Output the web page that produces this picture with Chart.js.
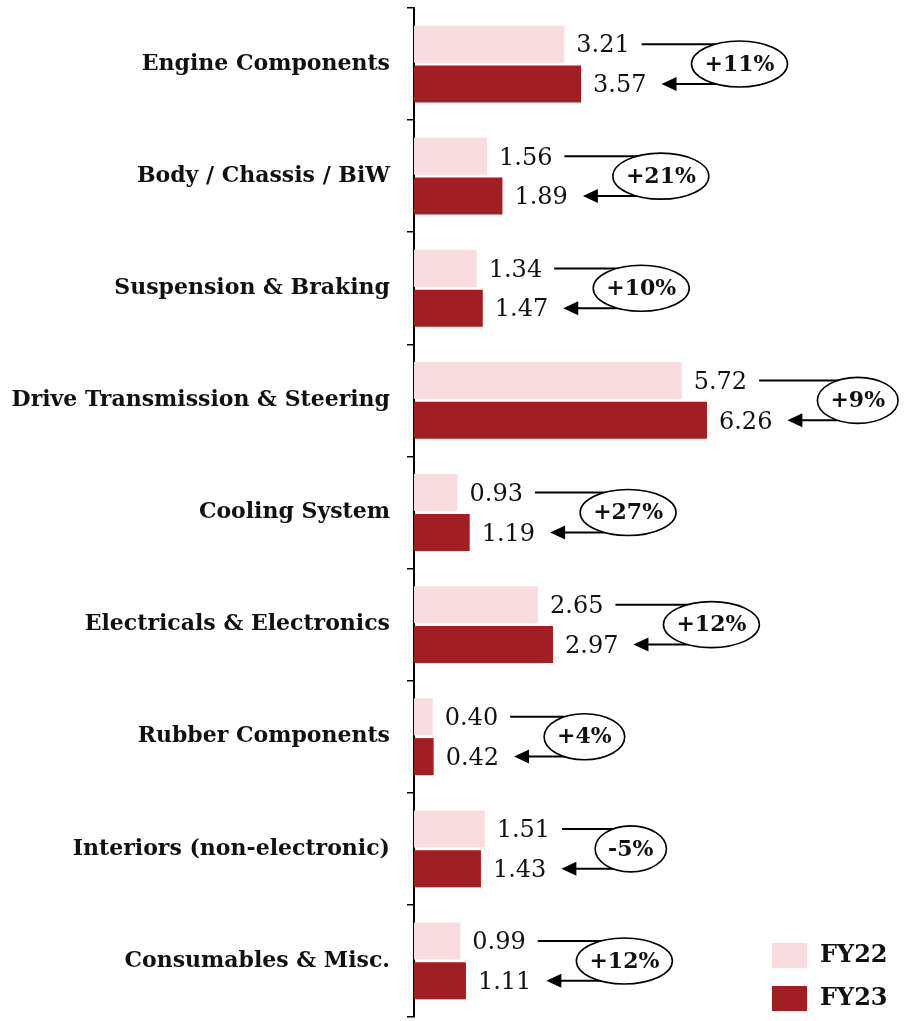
<!DOCTYPE html>
<html>
<head>
<meta charset="utf-8">
<script src="https://cdn.jsdelivr.net/npm/chart.js@4.4.0/dist/chart.umd.min.js"></script>
<style>
  html, body { margin: 0; padding: 0; background: #ffffff; }
  #wrap { width: 907px; height: 1021px; }
</style>
</head>
<body>
<div id="wrap"><canvas id="c" width="907" height="1021"></canvas></div>
<script>
const categories = [
  "Engine Components",
  "Body / Chassis / BiW",
  "Suspension & Braking",
  "Drive Transmission & Steering",
  "Cooling System",
  "Electricals & Electronics",
  "Rubber Components",
  "Interiors (non-electronic)",
  "Consumables & Misc."
];
const fy22 = [3.21, 1.56, 1.34, 5.72, 0.93, 2.65, 0.40, 1.51, 0.99];
const fy23 = [3.57, 1.89, 1.47, 6.26, 1.19, 2.97, 0.42, 1.43, 1.11];
const growth = ["+11%", "+21%", "+10%", "+9%", "+27%", "+12%", "+4%", "-5%", "+12%"];
const seriesNames = ["FY22", "FY23"];
const seriesColors = ["#F9DCE0", "#A11F22"];

const SERIF = '"DejaVu Serif", "Liberation Serif", serif';

const annotate = {
  id: 'annotate',
  afterDatasetsDraw(chart) {
    const ctx = chart.ctx;
    const m0 = chart.getDatasetMeta(0), m1 = chart.getDatasetMeta(1);
    ctx.save();
    const valFont = '24px ' + SERIF;
    const pctFont = 'bold 22px ' + SERIF;
    for (let i = 0; i < categories.length; i++) {
      const b0 = m0.data[i], b1 = m1.data[i];
      const t0 = fy22[i].toFixed(2), t1 = fy23[i].toFixed(2);
      ctx.font = valFont;
      ctx.fillStyle = '#111';
      ctx.textAlign = 'left';
      ctx.textBaseline = 'middle';
      const x0 = b0.x + 12, x1 = b1.x + 12;
      ctx.fillText(t0, x0, b0.y + 2);
      ctx.fillText(t1, x1, b1.y + 2);
      const e0 = x0 + ctx.measureText(t0).width;
      const e1 = x1 + ctx.measureText(t1).width;
      ctx.font = pctFont;
      const pw = ctx.measureText(growth[i]).width;
      const a = pw / 2 + 13, b = 23;
      const left = Math.max(e0, e1) + 45;
      const cx = left + a, cy = (b0.y + b1.y) / 2;
      ctx.strokeStyle = '#000';
      ctx.lineWidth = 2;
      ctx.beginPath();
      ctx.moveTo(e0 + 12, b0.y);
      ctx.lineTo(cx, b0.y);
      ctx.stroke();
      const tip = e1 + 15;
      ctx.beginPath();
      ctx.moveTo(cx, b1.y);
      ctx.lineTo(tip + 12, b1.y);
      ctx.stroke();
      ctx.fillStyle = '#000';
      ctx.beginPath();
      ctx.moveTo(tip, b1.y);
      ctx.lineTo(tip + 15, b1.y - 7);
      ctx.lineTo(tip + 15, b1.y + 7);
      ctx.closePath();
      ctx.fill();
      ctx.beginPath();
      ctx.ellipse(cx, cy, a, b, 0, 0, Math.PI * 2);
      ctx.fillStyle = '#fff';
      ctx.fill();
      ctx.lineWidth = 1.6;
      ctx.stroke();
      ctx.fillStyle = '#111';
      ctx.textAlign = 'center';
      ctx.fillText(growth[i], cx, cy + 1);
    }
    const lx = 772, ly = [943, 986];
    ctx.textAlign = 'left';
    ctx.textBaseline = 'middle';
    ctx.font = 'bold 24px ' + SERIF;
    chart.data.datasets.forEach((ds, k) => {
      ctx.fillStyle = ds.backgroundColor;
      ctx.fillRect(lx, ly[k], 35, 25);
      ctx.fillStyle = '#111';
      ctx.fillText(ds.label, lx + 48, ly[k] + 13);
    });
    ctx.restore();
  }
};

new Chart(document.getElementById('c'), {
  type: 'bar',
  data: {
    labels: categories,
    datasets: [
      { label: seriesNames[0], data: fy22, backgroundColor: seriesColors[0] },
      { label: seriesNames[1], data: fy23, backgroundColor: seriesColors[1] }
    ]
  },
  options: {
    indexAxis: 'y',
    responsive: false,
    animation: false,
    devicePixelRatio: 1,
    categoryPercentage: 0.71,
    barPercentage: 0.93,
    layout: { padding: { top: 8, bottom: 4, left: 0, right: 25 } },
    plugins: { legend: { display: false }, tooltip: { enabled: false } },
    scales: {
      x: { display: false, min: 0, max: 10 },
      y: {
        afterFit(s) { s.width = 414; s.paddingTop = 0; s.paddingBottom = 0; },
        border: { display: true, color: '#000', width: 2 },
        grid: { drawOnChartArea: false, drawTicks: true, tickLength: 7, color: '#000', lineWidth: 1.5, offset: true },
        ticks: { color: '#111', padding: 17, font: { family: SERIF, weight: 'bold', size: 22 } }
      }
    }
  },
  plugins: [annotate]
});
</script>
</body>
</html>
